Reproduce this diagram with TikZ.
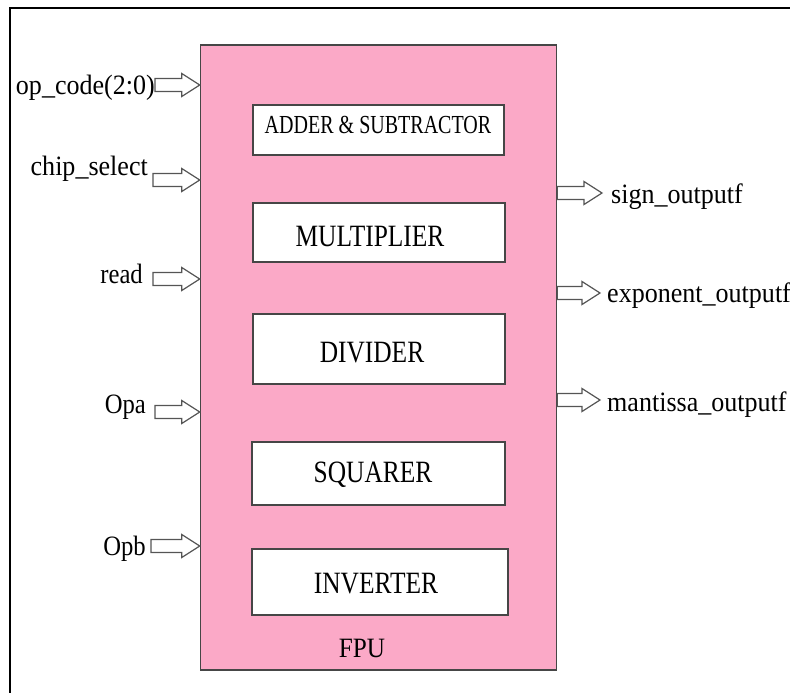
\documentclass[tikz,border=0pt]{standalone}
\usepackage{fontspec}
\usepackage{graphicx}
\setmainfont{Liberation Serif}
\usetikzlibrary{calc}
\definecolor{fpupink}{RGB}{251,169,199}
\definecolor{edgegray}{RGB}{70,70,70}
\definecolor{arrgray}{RGB}{85,85,85}
\newcommand{\sqzx}[2]{\scalebox{#1}[1]{#2}}
\tikzset{
  iolabel/.style={font=\fontsize{28}{32}\selectfont, inner sep=0pt},
  unitlabel/.style={font=\fontsize{31}{35}\selectfont, inner sep=0pt},
  smalllabel/.style={font=\fontsize{26}{30}\selectfont, inner sep=0pt},
  fpulabel/.style={font=\fontsize{28}{32}\selectfont, inner sep=0pt},
  unitbox/.style={draw=edgegray, line width=1.5pt, fill=white, rectangle, inner sep=0pt},
  barrowstyle/.style={draw=arrgray, line width=1.2pt, fill=white, line join=miter},
}
\newcommand{\barrow}[2]{%
  \draw[barrowstyle] let \p1=(#1), \p2=(#2) in
    (\x1,\y1+6.5pt) -- (\x2-18pt,\y1+6.5pt) -- (\x2-18pt,\y1+11.5pt) -- (\x2,\y1)
    -- (\x2-18pt,\y1-11.5pt) -- (\x2-18pt,\y1-6.5pt) -- (\x1,\y1-6.5pt) -- cycle;}
\begin{document}
\begin{tikzpicture}[x=1pt,y=-1pt]
\useasboundingbox (0,0) rectangle (790,693);
% outer frame
\draw[line width=1.8pt] (10,693) -- (10,8) -- (790,8);
% FPU block
\node[draw=edgegray, line width=1.5pt, fill=fpupink, rectangle, inner sep=0pt,
      minimum width=356pt, minimum height=625pt] (fpu) at (378.5,357.5) {};
% units
\node[unitbox, minimum width=251pt, minimum height=50pt] (add) at (378.5,130) {};
\node[unitbox, minimum width=252pt, minimum height=59pt] (mul) at (379,232.5) {};
\node[unitbox, minimum width=252pt, minimum height=70pt] (div) at (379,349) {};
\node[unitbox, minimum width=253pt, minimum height=63pt] (sqr) at (378.5,473.5) {};
\node[unitbox, minimum width=256pt, minimum height=66pt] (inv) at (380,582) {};
\node[smalllabel, anchor=base] (addt) at (378,133) {\sqzx{0.77}{ADDER \& SUBTRACTOR}};
\node[unitlabel, anchor=base] (mult) at (370,246) {\sqzx{0.82}{MULTIPLIER}};
\node[unitlabel, anchor=base] (divt) at (372,362) {\sqzx{0.82}{DIVIDER}};
\node[unitlabel, anchor=base] (sqrt) at (373,482) {\sqzx{0.82}{SQUARER}};
\node[unitlabel, anchor=base] (invt) at (376,593) {\sqzx{0.82}{INVERTER}};
\node[fpulabel, anchor=base] (fput) at (362,657) {\sqzx{0.9}{FPU}};
% input labels
\node[iolabel, anchor=base east] (opc) at (155,94) {\sqzx{0.93}{op\_code(2:0)}};
\node[iolabel, anchor=base east] (cs) at (148,175) {\sqzx{0.93}{chip\_select}};
\node[iolabel, anchor=base east] (rd) at (143,283) {\sqzx{0.88}{read}};
\node[iolabel, anchor=base east] (opa) at (146,413) {\sqzx{0.88}{Opa}};
\node[iolabel, anchor=base east] (opb) at (146,555) {\sqzx{0.88}{Opb}};
% input arrow ends
\coordinate (opcs) at (155,85);  \coordinate (opce) at (fpu.west |- opcs);
\coordinate (css) at (153,180);  \coordinate (cse) at (fpu.west |- css);
\coordinate (rds) at (153,279);  \coordinate (rde) at (fpu.west |- rds);
\coordinate (opas) at (155,412); \coordinate (opae) at (fpu.west |- opas);
\coordinate (opbs) at (151,546); \coordinate (opbe) at (fpu.west |- opbs);
\barrow{opcs}{opce}
\barrow{css}{cse}
\barrow{rds}{rde}
\barrow{opas}{opae}
\barrow{opbs}{opbe}
% outputs
\coordinate (sgs) at (fpu.east |- 0,193);  \coordinate (sge) at (602,193);
\coordinate (exs) at (fpu.east |- 0,293);  \coordinate (exe) at (600,293);
\coordinate (mas) at (fpu.east |- 0,400);  \coordinate (mae) at (600,400);
\barrow{sgs}{sge}
\barrow{exs}{exe}
\barrow{mas}{mae}
\node[iolabel, anchor=base west] (sgt) at (611,203) {\sqzx{0.93}{sign\_outputf}};
\node[iolabel, anchor=base west] (ext) at (607,302) {\sqzx{0.93}{exponent\_outputf}};
\node[iolabel, anchor=base west] (mat) at (607,411) {\sqzx{0.93}{mantissa\_outputf}};
\end{tikzpicture}
\end{document}
